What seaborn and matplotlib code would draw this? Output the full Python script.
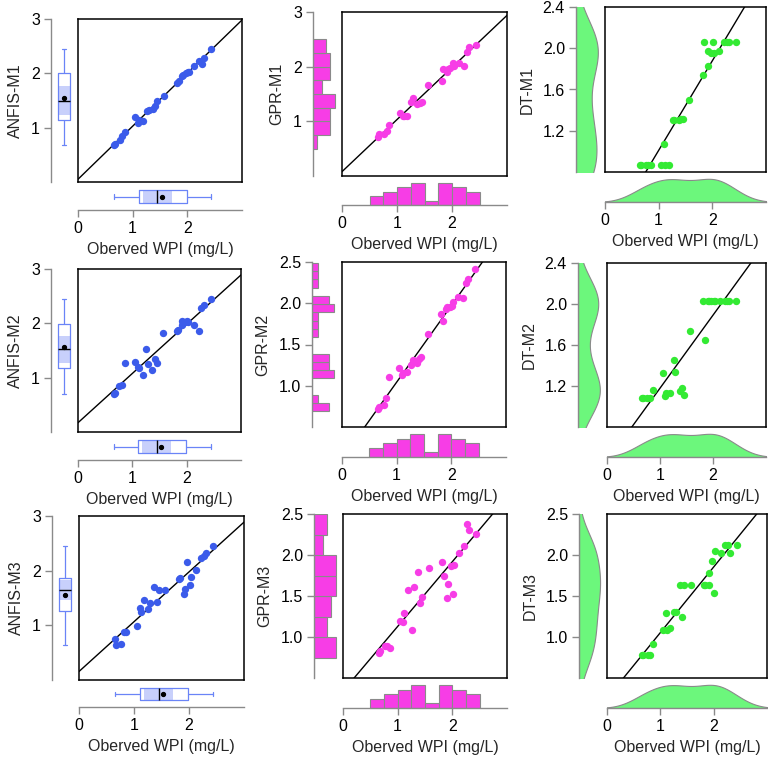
import numpy as np
import matplotlib
matplotlib.use("Agg")
import matplotlib.pyplot as plt
import seaborn as sns
from matplotlib.ticker import FormatStrFormatter

# ---------------- data ----------------
observed = [0.66, 0.68, 0.76, 0.81, 0.86, 1.05, 1.10, 1.12, 1.19, 1.26, 1.29, 1.37, 1.41, 1.45,
            1.57, 1.82, 1.84, 1.91, 1.92, 1.97, 2.01, 2.03, 2.13, 2.22, 2.27, 2.31, 2.44]

anfis_m1 = [0.68, 0.70, 0.78, 0.84, 0.92, 1.20, 1.08, 1.14, 1.13, 1.30, 1.32, 1.34, 1.40, 1.50,
            1.59, 1.83, 1.85, 1.95, 1.97, 2.00, 2.03, 2.02, 2.14, 2.23, 2.18, 2.29, 2.45]
anfis_m2 = [0.70, 0.72, 0.84, 0.86, 1.27, 1.29, 1.19, 1.18, 1.05, 1.52, 1.25, 1.14, 1.34, 1.27,
            1.82, 1.86, 1.87, 2.05, 1.97, 2.02, 2.05, 2.03, 1.97, 1.86, 2.28, 2.34, 2.45]
anfis_m3 = [0.75, 0.64, 0.66, 0.87, 0.88, 0.99, 1.31, 1.25, 1.46, 1.29, 1.40, 1.70, 1.43, 1.64,
            1.65, 1.85, 1.87, 1.58, 1.66, 2.15, 1.74, 1.88, 2.02, 2.24, 2.27, 2.32, 2.45]

gpr_m1 = [0.72, 0.76, 0.77, 0.83, 0.94, 1.16, 1.09, 1.10, 1.09, 1.35, 1.43, 1.32, 1.34, 1.36,
          1.67, 1.74, 1.96, 1.90, 1.96, 1.98, 2.06, 2.02, 2.07, 2.01, 2.26, 2.36, 2.40]
gpr_m2 = [0.72, 0.74, 0.77, 0.85, 1.11, 1.21, 1.13, 1.15, 1.17, 1.25, 1.31, 1.28, 1.33, 1.35,
          1.63, 1.87, 1.78, 1.93, 1.95, 1.96, 1.97, 2.02, 2.08, 2.06, 2.25, 2.30, 2.42]
gpr_m3 = [0.80, 0.83, 0.89, 0.89, 0.87, 1.20, 1.18, 1.29, 1.57, 1.09, 1.61, 1.79, 1.41, 1.49,
          1.84, 1.92, 1.74, 1.48, 1.65, 1.87, 1.52, 1.88, 2.02, 2.11, 2.38, 2.31, 2.26]

dt_m1 = [0.87, 0.87, 0.87, 0.87, 0.87, 0.87, 1.07, 0.87, 0.87, 1.30, 1.30, 1.30, 1.31, 1.31,
         1.50, 1.74, 2.06, 1.83, 1.97, 1.95, 2.06, 1.95, 1.97, 2.06, 2.06, 2.06, 2.06]
dt_m2 = [1.08, 1.08, 1.08, 1.08, 1.16, 1.33, 1.10, 1.13, 1.13, 1.45, 1.34, 1.15, 1.18, 1.11,
         1.74, 2.03, 1.65, 2.03, 2.03, 2.03, 2.03, 2.03, 2.03, 2.03, 2.03, 2.03, 2.03]
dt_m3 = [0.78, 0.78, 0.78, 0.78, 0.91, 1.09, 1.29, 1.08, 1.11, 1.31, 1.31, 1.64, 1.24, 1.63,
         1.64, 1.64, 1.64, 1.64, 1.78, 1.93, 1.54, 2.05, 2.03, 2.12, 2.12, 2.03, 2.12]

model_names = ["ANFIS-M1", "GPR-M1", "DT-M1",
               "ANFIS-M2", "GPR-M2", "DT-M2",
               "ANFIS-M3", "GPR-M3", "DT-M3"]
model_values = [anfis_m1, gpr_m1, dt_m1,
                anfis_m2, gpr_m2, dt_m2,
                anfis_m3, gpr_m3, dt_m3]
x_label = "Oberved WPI (mg/L)"

# ---------------- style ----------------
sns.set_theme(style="ticks")
plt.rcParams['font.family'] = ['Liberation Sans', 'DejaVu Sans']

GRAY = "#8a8a8a"
BLUE_PT = "#3b5bea"
BLUE_BOX = "#6a84f7"
BLUE_BAND = "#c8d0fb"
MAG = "#f73de6"
GREEN_PT = "#33ea33"
GREEN_KDE = "#6cf77c"

W, H = 768, 762
fig = plt.figure(figsize=(W / 100, H / 100), dpi=100)


def add_ax(x0, y0, x1, y1):
    return fig.add_axes([x0 / W, 1 - y1 / H, (x1 - x0) / W, (y1 - y0) / H])


# layout per panel (pixels): spine_x, main_x0, main_x1, main_top, main_bottom, spine_y
layouts = [
    (51, 78, 242, 19, 182, 210), (313, 342, 507, 12, 176, 205), (576, 605, 766, 7, 172, 202),
    (51, 78, 241, 269, 432, 460), (312, 342, 506, 262, 427, 457), (578, 607, 766, 263, 427, 457),
    (52, 79, 244, 516, 680, 707), (314, 343, 507, 514, 678, 708), (579, 607, 767, 514, 678, 708),
]
kinds = ["box", "hist", "kde"] * 3
ylims = [(0, 3), (0, 3), (0.8, 2.4),
         (0, 3), (0.5, 2.5), (0.8, 2.4),
         (0, 3), (0.5, 2.5), (0.5, 2.5)]
yticks_list = [[1, 2, 3], [1, 2, 3], [1.2, 1.6, 2.0, 2.4],
               [1, 2, 3], [1.0, 1.5, 2.0, 2.5], [1.2, 1.6, 2.0, 2.4],
               [1, 2, 3], [1.0, 1.5, 2.0, 2.5], [1.0, 1.5, 2.0, 2.5]]
yfmts = ['%d', '%d', '%.1f', '%d', '%.1f', '%.1f', '%d', '%.1f', '%.1f']
ybins_list = [None, np.arange(0.5, 2.51, 0.25), None,
              None, np.arange(0.69, 2.50, 0.1), None,
              None, np.arange(0.5, 2.51, 0.25), None]
xbins = np.arange(0.5, 2.51, 0.25)

obs = np.array(observed)


def box_marginal(ax, vals, orient):
    vals = np.asarray(vals)
    q1, med, q3 = np.percentile(vals, [25, 50, 75])
    notch = 1.58 * (q3 - q1) / np.sqrt(len(vals))
    kw = dict(ax=ax, width=0.48, fill=False, color=BLUE_BOX, linewidth=0.9,
              medianprops=dict(color="black", linewidth=1.0),
              showmeans=True,
              meanprops=dict(marker="o", markerfacecolor="black",
                             markeredgecolor="black", markersize=2.8),
              showfliers=False, capwidths=0.16)
    if orient == "v":
        ax.fill_betweenx([med - notch, med + notch], -0.24, 0.24,
                         color=BLUE_BAND, lw=0, zorder=0.5)
        sns.boxplot(y=vals, **kw)
        ax.set_xlim(-0.5, 0.5)
    else:
        ax.fill_between([med - notch, med + notch], -0.24, 0.24,
                        color=BLUE_BAND, lw=0, zorder=0.5)
        sns.boxplot(x=vals, **kw)
        ax.set_ylim(0.5, -0.5)


for i in range(9):
    name = model_names[i]
    pred = np.array(model_values[i])
    kind = kinds[i]
    sx, mx0, mx1, my0, my1, sy = layouts[i]
    ylim = ylims[i]

    ax_m = add_ax(mx0, my0, mx1, my1)
    ax_l = add_ax(sx, my0, mx0 - 1, my1)
    ax_b = add_ax(mx0, my1 + 1, mx1, sy)
    for a in (ax_l, ax_b):
        a.patch.set_alpha(0)

    pt_color = {"box": BLUE_PT, "hist": MAG, "kde": GREEN_PT}[kind]

    # ---- main scatter + fitted line ----
    ax_m.set_xlim(0, 3)
    ax_m.set_ylim(*ylim)
    sns.scatterplot(x=obs, y=pred, ax=ax_m, color=pt_color, s=28, linewidth=0, zorder=3)
    sns.regplot(x=obs, y=pred, ax=ax_m, scatter=False, ci=None, truncate=False,
                color="black", line_kws=dict(lw=1.0))
    ax_m.set_xlim(0, 3)
    ax_m.set_ylim(*ylim)
    ax_m.set_xticks([])
    ax_m.set_yticks([])
    ax_m.set_xlabel("")
    ax_m.set_ylabel("")
    for sp in ax_m.spines.values():
        sp.set_visible(True)
        sp.set_color("black")
        sp.set_linewidth(1.1)

    # ---- marginals ----
    if kind == "box":
        box_marginal(ax_l, pred, "v")
        box_marginal(ax_b, obs, "h")
    elif kind == "hist":
        yb = ybins_list[i]
        sns.histplot(y=pred, bins=yb, ax=ax_l, color=MAG, edgecolor=GRAY,
                     linewidth=0.8, alpha=1)
        ax_l.set_xlim(0, np.histogram(pred, bins=yb)[0].max() * 1.3)
        sns.histplot(x=obs, bins=xbins, ax=ax_b, color=MAG, edgecolor=GRAY,
                     linewidth=0.8, alpha=1)
        ax_b.set_ylim(0, np.histogram(obs, bins=xbins)[0].max() * 1.27)
    else:
        sns.kdeplot(y=pred, ax=ax_l, fill=True, color=GREEN_KDE, edgecolor=GRAY,
                    alpha=1, linewidth=0.8, bw_adjust=1.05)
        ax_l.set_ylim(*ylim)
        ax_l.set_xlim(0, ax_l.dataLim.x1 / 0.78)
        sns.kdeplot(x=obs, ax=ax_b, fill=True, color=GREEN_KDE, edgecolor=GRAY,
                    alpha=1, linewidth=0.8, bw_adjust=1.1)
        ax_b.set_ylim(0, ax_b.dataLim.y1 / 0.8)

    # ---- left axis (y) ----
    ax_l.set_ylim(*ylim)
    for s in ("top", "right", "bottom"):
        ax_l.spines[s].set_visible(False)
    ax_l.spines["left"].set_color(GRAY)
    ax_l.spines["left"].set_linewidth(1.0)
    ax_l.set_xticks([])
    ax_l.set_yticks(yticks_list[i])
    ax_l.yaxis.set_major_formatter(FormatStrFormatter(yfmts[i]))
    ax_l.tick_params(axis="y", left=True, direction="out", length=5, width=1,
                     color=GRAY, labelsize=11.5, labelcolor="black", pad=3)
    ax_l.set_xlabel("")
    ax_l.set_ylabel(name, fontsize=11.5, labelpad=6)

    # ---- bottom axis (x) ----
    ax_b.set_xlim(0, 3)
    for s in ("top", "right", "left"):
        ax_b.spines[s].set_visible(False)
    ax_b.spines["bottom"].set_color(GRAY)
    ax_b.spines["bottom"].set_linewidth(1.0)
    ax_b.set_yticks([])
    ax_b.set_xticks([0, 1, 2])
    ax_b.xaxis.set_major_formatter(FormatStrFormatter('%d'))
    ax_b.tick_params(axis="x", bottom=True, direction="out", length=5, width=1,
                     color=GRAY, labelsize=11.5, labelcolor="black", pad=3)
    ax_b.set_ylabel("")
    ax_b.set_xlabel(x_label, fontsize=11.5, labelpad=4)

fig.savefig("out.png", dpi=100)
